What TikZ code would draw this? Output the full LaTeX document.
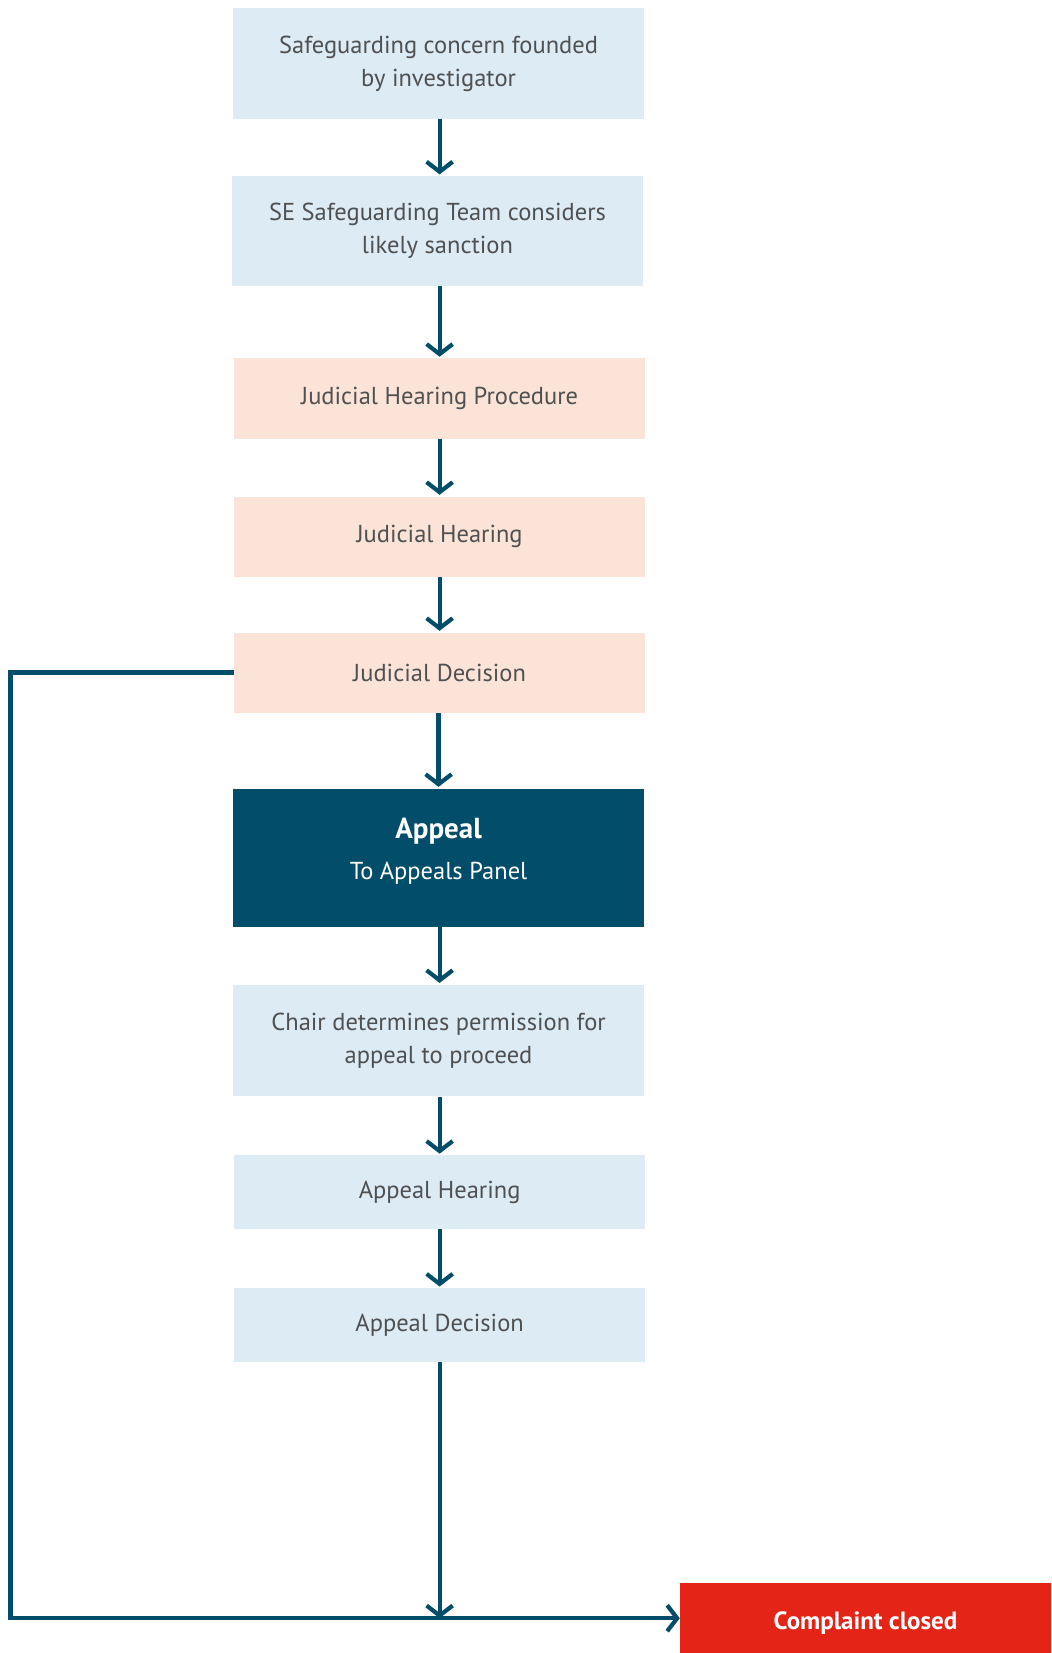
\documentclass[tikz,border=0pt]{standalone}
\usepackage{fontspec}
\setmainfont{PT Sans}
\usetikzlibrary{arrows.meta}
\definecolor{lblue}{HTML}{DCEBF4}
\definecolor{peach}{HTML}{FCE3D8}
\definecolor{dteal}{HTML}{024E6A}
\definecolor{txtgray}{HTML}{505050}
\definecolor{cred}{HTML}{E32416}
\begin{document}
\begin{tikzpicture}[x=1.0543pt,y=-1.0543pt,
  box/.style={rectangle, inner sep=0pt, minimum width=411pt, align=center,
    text=txtgray, font=\fontsize{24.5}{33}\selectfont},
  blue/.style={box, fill=lblue},
  pch/.style={box, fill=peach},
  conn/.style={draw=dteal, line width=4.2pt},
  tip/.style={-{Straight Barb[length=10pt,width=26pt,line width=4.2pt]}},
  arr/.style={conn, tip}]
\useasboundingbox (0,0) rectangle (997,1568);
\node[blue, minimum height=110.7pt] (b1) at (416,60.5) {Safeguarding concern founded\\by investigator};
\node[blue, minimum height=109.6pt] (b2) at (415,219) {SE Safeguarding Team considers\\likely sanction};
\node[pch, minimum height=80.1pt] (b3) at (417,378) {Judicial Hearing Procedure};
\node[pch, minimum height=80.1pt] (b4) at (417,509) {Judicial Hearing};
\node[pch, minimum height=80.1pt] (b5) at (417,638) {Judicial Decision};
\node[box, fill=dteal, minimum height=138.1pt] (b6) at (416,813.5) {};
\node[text=white, inner sep=0pt, font=\fontsize{29}{33}\selectfont\bfseries, anchor=base] (b6t) at (416,795) {Appeal};
\node[text=white, inner sep=0pt, font=\fontsize{24.5}{33}\selectfont, anchor=base] (b6s) at (416,834) {To Appeals Panel};
\node[blue, minimum height=111.8pt] (b7) at (416,987) {Chair determines permission for\\appeal to proceed};
\node[blue, minimum height=73.8pt] (b8) at (417,1131) {Appeal Hearing};
\node[blue, minimum height=73.8pt] (b9) at (417,1257) {Appeal Decision};
\node[rectangle, inner sep=0pt, fill=cred, minimum width=371pt, minimum height=69.6pt] (c) at (821,1535) {};
\node[text=white, inner sep=0pt, font=\fontsize{25}{33}\selectfont\bfseries, anchor=base] (ct) at (821,1546) {Complaint closed};
\coordinate (cl) at (10,1535);
\draw[arr] (417,113) -- ([yshift=1.5pt]b2.north -| 417,0);
\draw[arr] (417,271) -- ([yshift=1.5pt]b3.north -| 417,0);
\draw[arr] (b3.south) -- ([yshift=1.5pt]b4.north);
\draw[arr] (b4.south) -- ([yshift=1.5pt]b5.north);
\draw[arr] (b5.south -| 416,0) -- ([yshift=1.5pt]b6.north);
\draw[arr] (417,879) -- ([yshift=1.5pt]b7.north -| 417,0);
\draw[arr] (b7.south -| 417,0) -- ([yshift=1.5pt]b8.north);
\draw[arr] (b8.south) -- ([yshift=1.5pt]b9.north);
\draw[arr] (b9.south) -- (b9.south |- cl);
\draw[conn, line join=miter, tip]
  (b5.west) -- (b5.west -| cl) -- (cl) -- (c.west);
\end{tikzpicture}
\end{document}
